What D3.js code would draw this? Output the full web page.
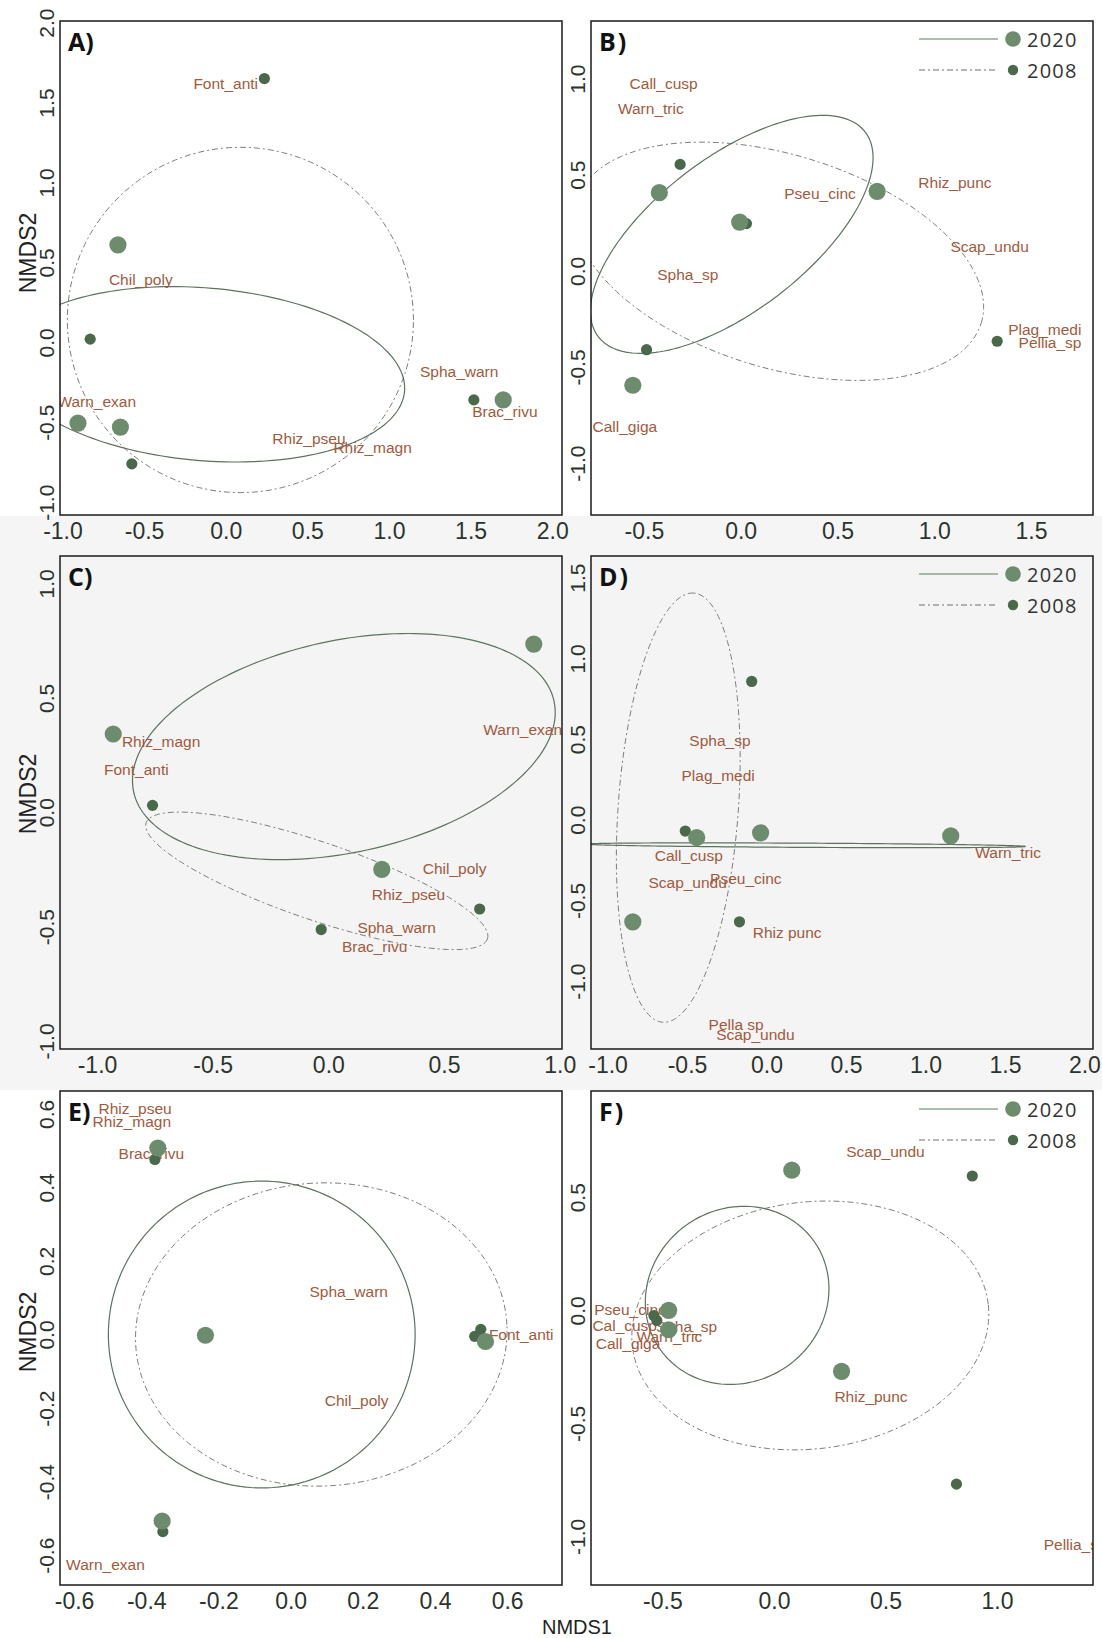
<!DOCTYPE html>
<html><head><meta charset="utf-8">
<script src="https://cdn.jsdelivr.net/npm/d3@7"></script>
<style>
html,body{margin:0;padding:0;background:#fff;}
svg{display:block;}
</style></head><body>
<svg id="chart" width="1102" height="1638"></svg>
<script>
// ---------------- DATA ----------------
// site scores [NMDS1, NMDS2] per year, species label positions, ellipse params [cx, cy, a, b, angleDeg]
const years = ["2020", "2008"];

// Panel A
const xTicksA = [-1.0, -0.5, 0.0, 0.5, 1.0, 1.5, 2.0];
const yTicksA = [-1.0, -0.5, 0.0, 0.5, 1.0, 1.5, 2.0];
const xDomainA = [-1.015, 2.06];
const yDomainA = [-1.08, 2.01];
const sitesA2020 = [[-0.66, 0.61], [-0.905, -0.505], [-0.645, -0.53], [1.70, -0.36]];
const sitesA2008 = [[0.237, 1.65], [-0.83, 0.02], [-0.575, -0.76], [1.52, -0.36]];
const speciesA = [["Font_anti", 0.0, 1.62], ["Chil_poly", -0.52, 0.39], ["Spha_warn", 1.43, -0.18], ["Warn_exan", -0.79, -0.37], ["Brac_rivu", 1.71, -0.43], ["Rhiz_pseu", 0.51, -0.60], ["Rhiz_magn", 0.90, -0.66]];
const ellipseA2020 = [-0.13, -0.2, 1.23, 0.54, -5];
const ellipseA2008 = [0.09, 0.14, 1.06, 1.08, 0];

// Panel B
const xTicksB = [-0.5, 0.0, 0.5, 1.0, 1.5];
const yTicksB = [-1.0, -0.5, 0.0, 0.5, 1.0];
const xDomainB = [-0.773, 1.82];
const yDomainB = [-1.27, 1.30];
const sitesB2020 = [[-0.42, 0.407], [-0.005, 0.254], [0.705, 0.414], [-0.557, -0.595]];
const sitesB2008 = [[-0.3125, 0.554], [0.03, 0.246], [1.325, -0.366], [-0.486, -0.41]];
const speciesB = [["Call_cusp", -0.398, 0.973], ["Warn_tric", -0.464, 0.843], ["Pseu_cinc", 0.41, 0.405], ["Rhiz_punc", 1.107, 0.459], ["Scap_undu", 1.286, 0.125], ["Spha_sp", -0.273, -0.018], ["Plag_medi", 1.571, -0.305], ["Pellia_sp", 1.598, -0.375], ["Call_giga", -0.598, -0.809]];
const ellipseB2020 = [-0.046, 0.19, 0.871, 0.397, 37.8];
const ellipseB2008 = [0.2, 0.05, 1.091, 0.554, -17.2];

// Panel C
const xTicksC = [-1.0, -0.5, 0.0, 0.5, 1.0];
const yTicksC = [-1.0, -0.5, 0.0, 0.5, 1.0];
const xDomainC = [-1.16, 1.01];
const yDomainC = [-1.035, 1.12];
const sitesC2020 = [[-0.93, 0.342], [0.888, 0.735], [0.231, -0.25]];
const sitesC2008 = [[-0.76, 0.03], [0.654, -0.423], [-0.031, -0.513]];
const speciesC = [["Rhiz_magn", -0.723, 0.307], ["Font_anti", -0.83, 0.187], ["Warn_exan", 0.84, 0.363], ["Chil_poly", 0.546, -0.247], ["Rhiz_pseu", 0.346, -0.36], ["Spha_warn", 0.295, -0.505], ["Brac_rivu", 0.2, -0.585]];
const ellipseC2020 = [0.067, 0.287, 0.93, 0.463, 12.4];
const ellipseC2008 = [-0.05, -0.30, 0.78, 0.17, -19];

// Panel D
const xTicksD = [-1.0, -0.5, 0.0, 0.5, 1.0, 1.5, 2.0];
const yTicksD = [-1.0, -0.5, 0.0, 0.5, 1.0, 1.5];
const xDomainD = [-1.104, 2.054];
const yDomainD = [-1.42, 1.634];
const sitesD2020 = [[-0.439, -0.11], [-0.037, -0.081], [1.159, -0.1], [-0.841, -0.632]];
const sitesD2008 = [[-0.093, 0.857], [-0.511, -0.07], [-0.17, -0.632]];
const speciesD = [["Spha_sp", -0.293, 0.489], ["Plag_medi", -0.304, 0.277], ["Call_cusp", -0.489, -0.223], ["Scap_undu", -0.496, -0.389], ["Pseu_cinc", -0.13, -0.362], ["Warn_tric", 1.52, -0.202], ["Rhiz punc", 0.13, -0.698], ["Pella sp", -0.191, -1.266], ["Scap_undu", -0.07, -1.33]];
const ellipseD2020 = [0.25, -0.158, 1.38, 0.013, -0.3];
const ellipseD2008 = [-0.555, 0.075, 1.333, 0.378, 85.8];

// Panel E
const xTicksE = [-0.6, -0.4, -0.2, 0.0, 0.2, 0.4, 0.6];
const yTicksE = [-0.6, -0.4, -0.2, 0.0, 0.2, 0.4, 0.6];
const xDomainE = [-0.639, 0.752];
const yDomainE = [-0.681, 0.662];
const sitesE2020 = [[-0.368, 0.507], [-0.236, -0.002], [0.54, -0.019], [-0.356, -0.507]];
const sitesE2008 = [[-0.376, 0.476], [0.527, 0.014], [0.51, -0.005], [-0.354, -0.536]];
const speciesE = [["Rhiz_pseu", -0.431, 0.615], ["Rhiz_magn", -0.44, 0.58], ["Brac_rivu", -0.386, 0.493], ["Spha_warn", 0.161, 0.116], ["Font_anti", 0.639, 0.0], ["Chil_poly", 0.183, -0.179], ["Warn_exan", -0.513, -0.625]];
const ellipseE2020 = [-0.08, 0.0, 0.425, 0.417, 0];
const ellipseE2008 = [0.085, 0.0, 0.515, 0.412, 3];

// Panel F
const xTicksF = [-0.5, 0.0, 0.5, 1.0];
const yTicksF = [-1.0, -0.5, 0.0, 0.5];
const xDomainF = [-0.82, 1.43];
const yDomainF = [-1.215, 0.97];
const sitesF2020 = [[0.08, 0.62], [-0.472, 0.0], [-0.472, -0.086], [0.303, -0.27]];
const sitesF2008 = [[0.889, 0.594], [-0.538, -0.023], [-0.525, -0.045], [0.818, -0.769]];
const speciesF = [["Scap_undu", 0.5, 0.703], ["Pseu_cinc", -0.645, 0.003], ["Cal_cusp", -0.669, -0.067], ["Spha_sp", -0.392, -0.07], ["Warn_tric", -0.469, -0.114], ["Call_giga", -0.654, -0.148], ["Rhiz_punc", 0.435, -0.38], ["Pellia_sp", 1.35, -1.036]];
const ellipseF2020 = [-0.165, 0.066, 0.42, 0.385, 30];
const ellipseF2008 = [0.163, -0.067, 0.803, 0.546, 6.7];

// ---------------- LAYOUT / STYLE ----------------
const cols = [[60, 562], [591, 1093]];
const rows = [[21, 515], [556, 1049], [1091, 1585]];
const col2020 = "#6d8b6d", col2008 = "#4a694b";
const labelCol = "#a05a3e", tickCol = "#2c332c";

const panels = [
  {id: "A", col: 0, row: 0, xd: xDomainA, yd: yDomainA, xt: xTicksA, yt: yTicksA, s20: sitesA2020, s08: sitesA2008, sp: speciesA, e20: ellipseA2020, e08: ellipseA2008, legend: false, bg: "#ffffff"},
  {id: "B", col: 1, row: 0, xd: xDomainB, yd: yDomainB, xt: xTicksB, yt: yTicksB, s20: sitesB2020, s08: sitesB2008, sp: speciesB, e20: ellipseB2020, e08: ellipseB2008, legend: true, bg: "#ffffff"},
  {id: "C", col: 0, row: 1, xd: xDomainC, yd: yDomainC, xt: xTicksC, yt: yTicksC, s20: sitesC2020, s08: sitesC2008, sp: speciesC, e20: ellipseC2020, e08: ellipseC2008, legend: false, bg: "#f4f4f4"},
  {id: "D", col: 1, row: 1, xd: xDomainD, yd: yDomainD, xt: xTicksD, yt: yTicksD, s20: sitesD2020, s08: sitesD2008, sp: speciesD, e20: ellipseD2020, e08: ellipseD2008, legend: true, bg: "#f4f4f4"},
  {id: "E", col: 0, row: 2, xd: xDomainE, yd: yDomainE, xt: xTicksE, yt: yTicksE, s20: sitesE2020, s08: sitesE2008, sp: speciesE, e20: ellipseE2020, e08: ellipseE2008, legend: false, bg: "#ffffff"},
  {id: "F", col: 1, row: 2, xd: xDomainF, yd: yDomainF, xt: xTicksF, yt: yTicksF, s20: sitesF2020, s08: sitesF2008, sp: speciesF, e20: ellipseF2020, e08: ellipseF2008, legend: true, bg: "#ffffff"}
];

const svg = d3.select("#chart");
svg.append("rect").attr("width", 1102).attr("height", 1638).attr("fill", "#ffffff");
// light grey band behind middle row
svg.append("rect").attr("x", 0).attr("y", 516).attr("width", 1102).attr("height", 574).attr("fill", "#f5f5f5");

function ellipseOutline(e) {
  const [cx, cy, a, b, deg] = e;
  const t = deg * Math.PI / 180;
  return d3.range(0, 361, 2).map(k => {
    const u = k * Math.PI / 180;
    const ex = a * Math.cos(u), ey = b * Math.sin(u);
    return [cx + ex * Math.cos(t) - ey * Math.sin(t), cy + ex * Math.sin(t) + ey * Math.cos(t)];
  });
}

const defs = svg.append("defs");

panels.forEach(p => {
  const [x0, x1] = cols[p.col];
  const [y0, y1] = rows[p.row];
  const x = d3.scaleLinear().domain(p.xd).range([x0, x1]);
  const y = d3.scaleLinear().domain(p.yd).range([y1, y0]);
  const g = svg.append("g");

  g.append("rect").attr("x", x0).attr("y", y0).attr("width", x1 - x0).attr("height", y1 - y0).attr("fill", p.bg);

  defs.append("clipPath").attr("id", "clip" + p.id)
    .append("rect").attr("x", x0).attr("y", y0).attr("width", x1 - x0).attr("height", y1 - y0);
  const inner = g.append("g").attr("clip-path", `url(#clip${p.id})`);

  const line = d3.line().x(d => x(d[0])).y(d => y(d[1]));
  inner.append("path").datum(ellipseOutline(p.e08)).attr("d", line)
    .attr("fill", "none").attr("stroke", "#7d7d7d").attr("stroke-width", 1).attr("stroke-dasharray", "6,3,2,3");
  inner.append("path").datum(ellipseOutline(p.e20)).attr("d", line)
    .attr("fill", "none").attr("stroke", "#5e725f").attr("stroke-width", 1.2);

  inner.selectAll("text.sp").data(p.sp).join("text").attr("class", "sp")
    .attr("x", d => x(d[1])).attr("y", d => y(d[2]))
    .attr("text-anchor", "middle").attr("dominant-baseline", "central")
    .attr("font-family", "'Liberation Sans', Arial, sans-serif").attr("font-size", 15.5)
    .attr("fill", labelCol).text(d => d[0]);

  inner.selectAll("circle.p08").data(p.s08).join("circle").attr("class", "p08")
    .attr("cx", d => x(d[0])).attr("cy", d => y(d[1])).attr("r", 5.6).attr("fill", col2008);
  inner.selectAll("circle.p20").data(p.s20).join("circle").attr("class", "p20")
    .attr("cx", d => x(d[0])).attr("cy", d => y(d[1])).attr("r", 8.6).attr("fill", col2020);

  if (p.legend) {
    const lg = g.append("g");
    years.forEach((yr, i) => {
      const ly = y0 + 18 + i * 31;
      lg.append("line").attr("x1", 919).attr("x2", 998).attr("y1", ly).attr("y2", ly)
        .attr("stroke", i === 0 ? "#5e7a5f" : "#6f6f6f").attr("stroke-width", 1)
        .attr("stroke-dasharray", i === 0 ? null : "6,3,2,3");
      lg.append("circle").attr("cx", 1013).attr("cy", ly).attr("r", i === 0 ? 7.8 : 5.2)
        .attr("fill", i === 0 ? col2020 : col2008);
      lg.append("text").attr("x", 1027).attr("y", ly + 7.5)
        .attr("font-family", "'Open Sans', sans-serif").attr("font-size", 20).attr("letter-spacing", 1.2)
        .attr("fill", "#333").text(yr);
    });
  }

  g.append("text").attr("x", x0 + 8).attr("y", y0 + 30)
    .attr("font-family", "'Open Sans', sans-serif").attr("font-weight", "bold").attr("font-size", 25)
    .attr("letter-spacing", p.col === 1 ? 2 : 0)
    .attr("fill", "#111").text(p.id + ")");

  g.append("rect").attr("x", x0).attr("y", y0).attr("width", x1 - x0).attr("height", y1 - y0)
    .attr("fill", "none").attr("stroke", "#1a1a1a").attr("stroke-width", 1.5);

  const xa = d3.axisBottom(x).tickValues(p.xt).tickSize(0).tickPadding(8).tickFormat(d => d.toFixed(1));
  const gx = g.append("g").attr("transform", `translate(0,${y1})`).call(xa);
  gx.select(".domain").remove();
  gx.attr("font-size", null).attr("font-family", null);
  gx.selectAll("text").attr("font-family", "'Liberation Sans', Arial, sans-serif").attr("font-size", 23).attr("fill", tickCol);

  const ya = d3.axisLeft(y).tickValues(p.yt).tickSize(0).tickFormat(d => d.toFixed(1));
  const gy = g.append("g").attr("transform", `translate(${x0},0)`).call(ya);
  gy.select(".domain").remove();
  gy.attr("font-size", null).attr("font-family", null);
  gy.selectAll("text").attr("x", 0).attr("dy", 0).attr("text-anchor", "middle")
    .attr("transform", "translate(-6,0) rotate(-90)")
    .attr("font-family", "'Liberation Sans', Arial, sans-serif").attr("font-size", 21).attr("fill", tickCol);
});

// axis titles
[253, 794, 1332].forEach(cy => {
  svg.append("text").attr("transform", `translate(36,${cy}) rotate(-90)`)
    .attr("text-anchor", "middle").attr("font-family", "'Liberation Sans', Arial, sans-serif")
    .attr("font-size", 23).attr("fill", "#222").text("NMDS2");
});
svg.append("text").attr("x", 577).attr("y", 1634).attr("text-anchor", "middle")
  .attr("font-family", "'Liberation Sans', Arial, sans-serif").attr("font-size", 20)
  .attr("fill", "#222").text("NMDS1");
</script></body></html>
